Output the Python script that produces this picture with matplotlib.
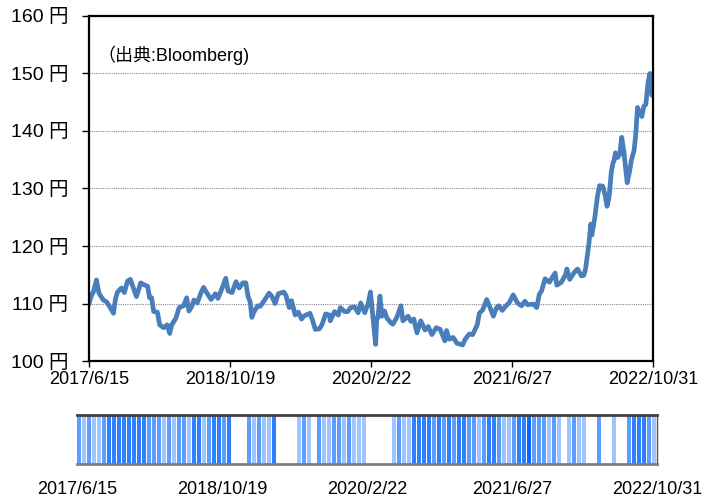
import matplotlib
matplotlib.use("Agg")
import matplotlib.pyplot as plt
import matplotlib.dates as mdates
from matplotlib.colors import LinearSegmentedColormap
import numpy as np
import pandas as pd

plt.rcParams['font.family'] = ['Liberation Sans', 'Noto Sans CJK JP', 'DejaVu Sans']

# ---- data ----
dates = ["2017-06-15","2017-06-22","2017-06-30","2017-07-11","2017-07-19","2017-07-27","2017-08-04","2017-08-15",
"2017-08-29","2017-09-08","2017-09-15","2017-09-22","2017-10-06","2017-10-16","2017-10-27","2017-11-06",
"2017-11-15","2017-11-27","2017-12-12","2017-12-22","2018-01-05","2018-01-12","2018-01-19","2018-01-26",
"2018-02-08","2018-02-16","2018-03-02","2018-03-14","2018-03-23","2018-03-30","2018-04-13","2018-04-25",
"2018-05-10","2018-05-21","2018-05-29","2018-06-08","2018-06-15","2018-06-27","2018-07-11","2018-07-19",
"2018-07-31","2018-08-14","2018-08-29","2018-09-07","2018-09-20","2018-10-04","2018-10-12","2018-10-26",
"2018-11-09","2018-11-20","2018-12-03","2018-12-13","2018-12-21","2018-12-28","2019-01-03","2019-01-10",
"2019-01-23","2019-02-01","2019-02-15","2019-03-04","2019-03-13","2019-03-25","2019-04-05","2019-04-24",
"2019-05-02","2019-05-13","2019-05-21","2019-06-03","2019-06-14","2019-06-25","2019-07-03","2019-07-11",
"2019-07-24","2019-08-01","2019-08-12","2019-08-26","2019-09-04","2019-09-17","2019-09-30","2019-10-03",
"2019-10-18","2019-10-31","2019-11-07","2019-11-22","2019-12-03","2019-12-13","2019-12-27","2020-01-08",
"2020-01-17","2020-01-31","2020-02-12","2020-02-20","2020-02-28","2020-03-09","2020-03-13","2020-03-17",
"2020-03-24","2020-03-31","2020-04-09","2020-04-17","2020-04-30","2020-05-08","2020-05-22","2020-06-05",
"2020-06-12","2020-06-30","2020-07-10","2020-07-20","2020-07-31","2020-08-13","2020-08-28","2020-09-08",
"2020-09-21","2020-10-06","2020-10-20","2020-11-05","2020-11-11","2020-11-20","2020-12-04","2020-12-17",
"2021-01-06","2021-01-15","2021-01-29","2021-02-10","2021-02-26","2021-03-05","2021-03-17","2021-03-31",
"2021-04-09","2021-04-23","2021-05-04","2021-05-12","2021-05-24","2021-06-04","2021-06-18","2021-07-01",
"2021-07-16","2021-07-30","2021-08-11","2021-08-20","2021-09-10","2021-09-21","2021-09-30","2021-10-08",
"2021-10-20","2021-11-04","2021-11-24","2021-11-30","2021-12-16","2021-12-31","2022-01-04","2022-01-14",
"2022-01-28","2022-02-10","2022-02-24","2022-03-04","2022-03-10","2022-03-17","2022-03-22","2022-03-28",
"2022-04-01","2022-04-12","2022-04-20","2022-04-28","2022-05-09","2022-05-16","2022-05-24","2022-05-31",
"2022-06-08","2022-06-14","2022-06-17","2022-06-22","2022-06-30","2022-07-07","2022-07-14","2022-07-22",
"2022-08-02","2022-08-10","2022-08-17","2022-08-26","2022-09-01","2022-09-07","2022-09-14","2022-09-22",
"2022-09-29","2022-10-06","2022-10-14","2022-10-20","2022-10-24","2022-10-27","2022-10-31"]
rates = [109.9,111.2,112.0,114.1,111.9,111.2,110.6,110.3,
109.2,108.3,110.8,112.0,112.7,111.9,113.9,114.2,
112.9,111.2,113.6,113.3,113.0,111.0,111.0,108.6,
108.5,106.3,105.8,106.3,104.8,106.3,107.4,109.3,
109.6,111.0,108.7,109.5,110.6,110.1,112.0,112.8,
111.8,110.7,111.7,110.9,112.5,114.4,112.2,111.9,
113.8,112.7,113.6,113.6,111.2,110.3,107.6,108.5,
109.6,109.5,110.5,111.8,111.3,110.0,111.7,112.0,
111.4,109.3,110.5,108.0,108.5,107.3,107.8,108.0,
108.3,107.3,105.5,105.6,106.3,108.2,108.0,107.0,
108.6,108.0,109.3,108.6,108.6,109.3,109.4,108.4,
110.1,108.4,110.0,112.0,107.9,102.9,107.5,107.5,
111.3,107.8,108.7,107.5,106.7,106.4,107.6,109.6,
107.0,107.8,106.9,107.3,104.9,107.0,105.4,106.0,
104.6,105.8,105.5,103.5,105.3,103.8,104.1,103.1,
102.8,103.8,104.7,104.6,106.3,108.3,108.9,110.7,
109.6,107.8,109.3,109.6,108.8,109.5,110.2,111.5,
110.1,109.6,110.4,109.8,109.9,109.3,111.6,112.2,
114.3,113.7,115.3,113.2,113.7,115.1,116.0,114.2,
115.3,116.0,114.8,114.9,116.0,118.6,120.5,123.8,
121.9,125.2,128.5,130.5,130.4,129.1,126.9,128.5,
133.0,134.5,134.8,136.2,135.4,135.9,138.9,136.2,
131.0,132.9,135.0,136.6,139.5,144.1,143.2,142.5,
144.3,144.6,148.5,150.0,148.5,146.2,146.3]

tick_dates = ["2017-06-15", "2018-10-19", "2020-02-22", "2021-06-27", "2022-10-31"]
tick_labels = ["2017/6/15", "2018/10/19", "2020/2/22", "2021/6/27", "2022/10/31"]
y_ticks = [100, 110, 120, 130, 140, 150, 160]
y_labels = [f"{v} 円" for v in y_ticks]

# intensity of the navigator barcode strip, in equal bins over the full range
strip_levels = [2,1,2,1,1,2,3,3,3,3,3,3,3,3,2,2,2,1,2,1,
                2,2,1,3,3,1,2,3,3,2,3,0,0,0,2,1,2,1,1,3,
                0,0,0,0,1,2,1,0,2,1,1,2,2,1,2,1,1,1,0,0,
                0,0,0,1,2,1,1,3,3,3,3,2,3,2,3,2,3,3,2,2,
                1,2,3,3,2,1,1,2,3,3,4,2,2,2,1,2,1,0,1,2,
                1,1,0,0,2,0,0,1,0,0,2,3,3,3,2,1]

source_text = "（出典:Bloomberg)"

# ---- plot ----
d = pd.to_datetime(dates)
x0 = pd.Timestamp(tick_dates[0]); x1 = pd.Timestamp(tick_dates[-1])

fig = plt.figure(figsize=(7.18, 4.98), dpi=100)
ax = fig.add_axes([0.124, 0.275, 0.7855, 0.693])
ax.plot(d, rates, color="#4A7EBB", lw=3.4, solid_joinstyle="round", solid_capstyle="round")
ax.set_xlim(x0, x1)
ax.set_ylim(100, 160)
ax.set_yticks(y_ticks)
ax.set_yticklabels(y_labels, fontsize=14)
ax.set_xticks(pd.to_datetime(tick_dates))
ax.set_xticklabels(tick_labels, fontsize=13)
for v in y_ticks[1:-1]:
    ax.axhline(v, color="#888888", lw=0.8, ls=(0, (1, 1)), zorder=0)
for s in ax.spines.values():
    s.set_linewidth(1.6)
    s.set_color("black")
ax.tick_params(axis="y", length=5, width=1, pad=10)
ax.tick_params(axis="x", length=4, width=1, pad=3)
ax.text(0.015, 0.887, source_text, transform=ax.transAxes, fontsize=13, va="center", ha="left")

# navigator strip
ax2 = fig.add_axes([0.107, 0.068, 0.8078, 0.0985])
cmap = LinearSegmentedColormap.from_list("nav", ["#FFFFFF", "#9EC5FF", "#5C9EFF", "#2F80FF", "#0A66FF"])
edges = mdates.date2num(pd.date_range(x0, x1, periods=len(strip_levels) + 1))
lefts = edges[:-1]
widths = np.diff(edges)
for lft, w, lv in zip(lefts, widths, strip_levels):
    if lv > 0:
        ax2.bar(lft, 1, width=w * 0.85, align="edge", color=cmap(lv / 4), linewidth=0)
ax2.set_xlim(x0, x1)
ax2.set_ylim(0, 1)
ax2.set_yticks([])
ax2.set_xticks(pd.to_datetime(tick_dates))
ax2.set_xticklabels(tick_labels, fontsize=13)
ax2.tick_params(axis="x", length=0, pad=12)
ax2.spines["top"].set_color("#404040"); ax2.spines["top"].set_linewidth(2)
ax2.spines["bottom"].set_color("#808080"); ax2.spines["bottom"].set_linewidth(2)
ax2.spines["left"].set_visible(False)
ax2.spines["right"].set_color("#555555"); ax2.spines["right"].set_linewidth(1)

fig.savefig("out.png", dpi=100)
